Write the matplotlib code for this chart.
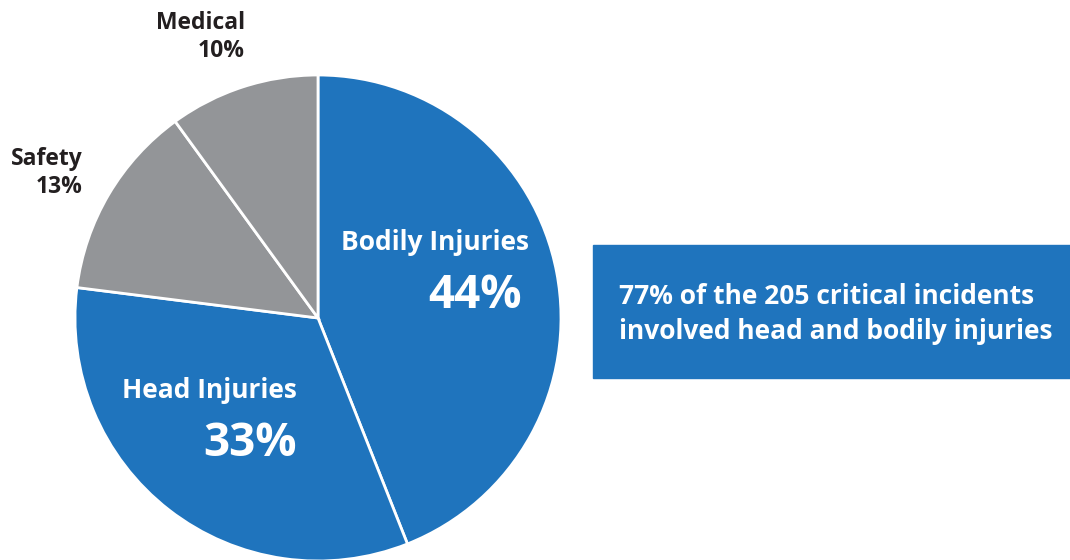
import matplotlib.pyplot as plt

# Data
categories = ['Bodily Injuries', 'Head Injuries', 'Safety', 'Medical']
values = [44, 33, 13, 10]
blue = '#1F74BD'
gray = '#939598'
colors = [blue, blue, gray, gray]

plt.rcParams['font.family'] = ['Open Sans', 'DejaVu Sans']

W, H = 1070, 560
fig = plt.figure(figsize=(W / 100, H / 100), dpi=100)

# pie axes: centre (318, 318) px, radius 243 px
cx, cy, r = 318, 318, 243
ax = fig.add_axes([(cx - r) / W, (H - cy - r) / H, 2 * r / W, 2 * r / H])
ax.pie(values, colors=colors, startangle=90, counterclock=False, radius=1,
       wedgeprops=dict(edgecolor='white', linewidth=2))
ax.set_xlim(-1, 1)
ax.set_ylim(-1, 1)
ax.set_aspect('equal')
ax.axis('off')


def px(x, y):
    return x / W, 1 - y / H


# labels outside (gray slices)
fig.text(*px(245, 37), f'{categories[3]}\n{values[3]}%', ha='right', va='center',
         fontsize=16.5, fontweight='bold', color='#231F20', linespacing=1.2)
fig.text(*px(83, 173), f'{categories[2]}\n{values[2]}%', ha='right', va='center',
         fontsize=16.5, fontweight='bold', color='#231F20', linespacing=1.2)

# labels inside (blue slices)
fig.text(*px(435, 243), categories[0], ha='center', va='center',
         fontsize=19, fontweight='bold', color='white')
fig.text(*px(522, 295), f'{values[0]}%', ha='right', va='center',
         fontsize=33, fontweight='bold', color='white')
fig.text(*px(209, 390), categories[1], ha='center', va='center',
         fontsize=19, fontweight='bold', color='white')
fig.text(*px(297, 443), f'{values[1]}%', ha='right', va='center',
         fontsize=33, fontweight='bold', color='white')

# callout box
box = plt.Rectangle(px(593, 378), (W - 593) / W, (378 - 245) / H,
                    transform=fig.transFigure, color=blue, zorder=0)
fig.patches.append(box)
total = values[0] + values[1]
fig.text(*px(619, 314), f'{total}% of the 205 critical incidents\ninvolved head and bodily injuries',
         ha='left', va='center', fontsize=19, fontweight='bold', color='white',
         linespacing=1.35)

fig.savefig('out.png', dpi=100)
